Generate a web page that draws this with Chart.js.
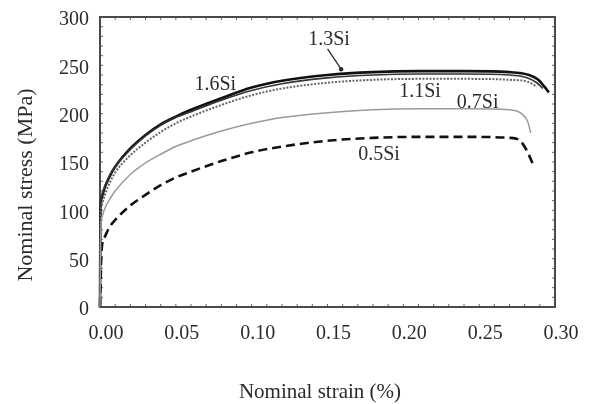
<!DOCTYPE html>
<html>
<head>
<meta charset="utf-8">
<script src="https://cdn.jsdelivr.net/npm/chart.js@4"></script>
<style>
  body { margin: 0; background: #fff; }
  canvas { display: block; }
</style>
</head>
<body>
<canvas id="stressChart" width="591" height="404"></canvas>
<script>
// tensile curves, nominal strain (%) vs nominal stress (MPa)
var strain13 = [0, 0.0003, 0.001, 0.003, 0.006, 0.01, 0.02, 0.03, 0.04, 0.05, 0.06, 0.08, 0.10, 0.12, 0.15, 0.18, 0.21, 0.24, 0.27, 0.283, 0.289, 0.293, 0.296];
var stress13 = [0, 95, 112, 123, 134, 145, 164, 178, 189, 197, 204, 216, 227, 234, 240, 243, 244, 244, 243, 240, 235, 228, 222];

var strain16 = [0, 0.0003, 0.001, 0.003, 0.006, 0.01, 0.02, 0.03, 0.04, 0.05, 0.06, 0.08, 0.10, 0.12, 0.15, 0.18, 0.21, 0.24, 0.27, 0.282, 0.288, 0.292];
var stress16 = [0, 97, 114, 124, 135, 145, 163, 177, 188, 196, 202, 214, 224, 231, 237, 240, 241, 241, 240, 237, 232, 226];

var strain11 = [0, 0.0003, 0.001, 0.003, 0.006, 0.01, 0.02, 0.03, 0.04, 0.05, 0.06, 0.08, 0.10, 0.12, 0.15, 0.18, 0.21, 0.24, 0.27, 0.282, 0.288];
var stress11 = [0, 88, 104, 115, 127, 139, 157, 170, 181, 190, 197, 209, 219, 226, 232, 235, 236, 236, 235, 233, 228];

var strain07 = [0, 0.0005, 0.0015, 0.004, 0.007, 0.01, 0.02, 0.03, 0.04, 0.05, 0.06, 0.08, 0.10, 0.12, 0.15, 0.18, 0.21, 0.24, 0.27, 0.278, 0.282, 0.284];
var stress07 = [0, 78, 94, 105, 113, 120, 137, 149, 158, 166, 172, 182, 190, 196, 201, 204, 205, 205, 204, 200, 192, 180];

var strain05 = [0, 0.001, 0.003, 0.006, 0.01, 0.02, 0.03, 0.04, 0.05, 0.06, 0.08, 0.10, 0.12, 0.15, 0.18, 0.21, 0.24, 0.27, 0.277, 0.281, 0.284, 0.286];
var stress05 = [0, 58, 72, 82, 90, 105, 116, 126, 134, 140, 151, 160, 166, 172, 175, 176, 176, 175, 172, 163, 153, 145];

var xTicks = [0, 0.05, 0.10, 0.15, 0.20, 0.25, 0.30];
var yTicks = [0, 50, 100, 150, 200, 250, 300];

// curve labels: [text, strain, stress]
var curveLabels = [
  ['1.6Si', 0.076, 230],
  ['1.3Si', 0.151, 276],
  ['1.1Si', 0.211, 223],
  ['0.7Si', 0.249, 211],
  ['0.5Si', 0.184, 157]
];

function toPoints(xs, ys) {
  var pts = [];
  for (var i = 0; i < xs.length; i++) {
    pts.push({ x: xs[i], y: ys[i] });
  }
  return pts;
}

var serif = '"Liberation Serif", "Times New Roman", serif';

var framePlugin = {
  id: 'frame',
  beforeDatasetsDraw: function(chart) {
    var ctx = chart.ctx;
    var a = chart.chartArea;
    var xs = chart.scales.x, ys = chart.scales.y;
    ctx.save();
    ctx.strokeStyle = '#666';
    ctx.lineWidth = 1;
    // small inward ticks every 0.01 strain and 10 MPa
    ctx.beginPath();
    for (var s = 1; s < 30; s++) {
      var px = xs.getPixelForValue(s / 100);
      ctx.moveTo(px, a.bottom); ctx.lineTo(px, a.bottom - 3);
      ctx.moveTo(px, a.top); ctx.lineTo(px, a.top + 3);
    }
    for (var m = 10; m < 300; m += 10) {
      var py = ys.getPixelForValue(m);
      ctx.moveTo(a.left, py); ctx.lineTo(a.left + 3, py);
      ctx.moveTo(a.right, py); ctx.lineTo(a.right - 3, py);
    }
    ctx.stroke();
    ctx.lineWidth = 2;
    ctx.strokeStyle = '#4a4a4a';
    ctx.strokeRect(a.left, a.top, a.right - a.left, a.bottom - a.top);
    ctx.restore();
  },
  afterDraw: function(chart) {
    var ctx = chart.ctx;
    var a = chart.chartArea;
    var xs = chart.scales.x, ys = chart.scales.y;
    ctx.save();
    ctx.fillStyle = '#2b2b2b';
    ctx.font = '20px ' + serif;

    ctx.textAlign = 'right';
    ctx.textBaseline = 'middle';
    yTicks.forEach(function(v) {
      ctx.fillText(String(v), a.left - 11, ys.getPixelForValue(v) + 3);
    });

    ctx.save();
    ctx.beginPath();
    ctx.rect(0, 0, 582, chart.height);
    ctx.clip();
    ctx.textAlign = 'center';
    ctx.textBaseline = 'top';
    xTicks.forEach(function(v) {
      ctx.fillText(v.toFixed(2), xs.getPixelForValue(v) + 6, a.bottom + 17);
    });
    ctx.restore();

    // axis titles
    ctx.font = '21px ' + serif;
    ctx.textAlign = 'center';
    ctx.textBaseline = 'middle';
    ctx.fillText('Nominal strain (%)', 320, 392);
    ctx.save();
    ctx.translate(26, 185);
    ctx.rotate(-Math.PI / 2);
    ctx.font = '22px ' + serif;
    ctx.fillText('Nominal stress (MPa)', 0, 0);
    ctx.restore();

    // curve labels
    ctx.font = '20px ' + serif;
    curveLabels.forEach(function(l) {
      ctx.fillText(l[0], xs.getPixelForValue(l[1]), ys.getPixelForValue(l[2]));
    });

    // leader from 1.3Si to its curve
    var x0 = xs.getPixelForValue(0.150), y0 = ys.getPixelForValue(267);
    var x1 = xs.getPixelForValue(0.159), y1 = ys.getPixelForValue(246);
    ctx.strokeStyle = '#222';
    ctx.lineWidth = 1.2;
    ctx.beginPath();
    ctx.moveTo(x0, y0); ctx.lineTo(x1, y1);
    ctx.stroke();
    ctx.beginPath();
    ctx.arc(x1, y1, 2.2, 0, Math.PI * 2);
    ctx.fill();
    ctx.restore();
  }
};

var ctx = document.getElementById('stressChart').getContext('2d');
var stressChart = new Chart(ctx, {
  type: 'line',
  data: {
    datasets: [
      { label: '0.7Si', data: toPoints(strain07, stress07), borderColor: '#9a9a9a', borderWidth: 1.5 },
      { label: '0.5Si', data: toPoints(strain05, stress05), borderColor: '#111', borderWidth: 2.6, borderDash: [9, 5] },
      { label: '1.1Si', data: toPoints(strain11, stress11), borderColor: '#666', borderWidth: 2, borderDash: [2, 1.5] },
      { label: '1.6Si', data: toPoints(strain16, stress16), borderColor: '#333', borderWidth: 1.6 },
      { label: '1.3Si', data: toPoints(strain13, stress13), borderColor: '#111', borderWidth: 2.6 }
    ]
  },
  options: {
    responsive: false,
    animation: false,
    events: [],
    layout: { padding: { left: 100, right: 36, top: 17, bottom: 97 } },
    elements: {
      point: { radius: 0 },
      line: { cubicInterpolationMode: 'monotone', fill: false }
    },
    datasets: { line: { clip: 4 } },
    plugins: {
      legend: { display: false },
      tooltip: { enabled: false }
    },
    scales: {
      x: { type: 'linear', min: 0, max: 0.3, display: false },
      y: { type: 'linear', min: 0, max: 300, display: false }
    }
  },
  plugins: [framePlugin]
});
</script>
</body>
</html>
